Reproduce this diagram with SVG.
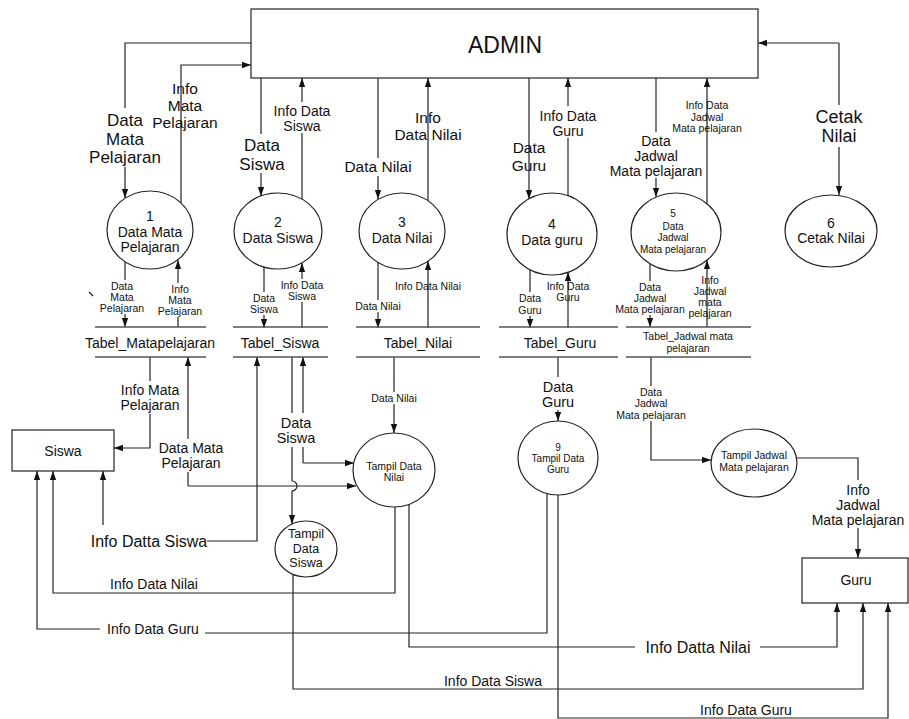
<svg xmlns="http://www.w3.org/2000/svg" width="909" height="719" viewBox="0 0 909 719">
<style>
text{font-family:"Liberation Sans",Arial,sans-serif;fill:#111;text-anchor:middle}
.ln{fill:none;stroke:#222;stroke-width:1.2}
.tb{stroke:#555;stroke-width:1.5}
.nd{fill:#fff;stroke:#222;stroke-width:1.2}
.bg{fill:#fff}
.s10{font-size:10px}.s105{font-size:10.5px}.s125{font-size:12.5px}.s14{font-size:14px}.s145{font-size:14.5px}.s155{font-size:15.5px}.s16{font-size:16px}.s17{font-size:17px}.s18{font-size:18px}.s23{font-size:23px}
</style>
<defs>
<marker id="a" viewBox="0 0 10 10" refX="10" refY="5" markerWidth="9" markerHeight="9" markerUnits="userSpaceOnUse" orient="auto"><path d="M0,1.5L10,5L0,8.5z" fill="#111"/></marker>
</defs>
<g id="connectors" class="ln" marker-end="url(#a)">
<path d="M251,43H125V198"/>
<path d="M181,203V65H251"/>
<path d="M261,78V196"/>
<path d="M302,199V78"/>
<path d="M378,78V199"/>
<path d="M428,201V78"/>
<path d="M529,78V199"/>
<path d="M568,196V78"/>
<path d="M656,78V197"/>
<path d="M707,204V78"/>
<path d="M839,43H758"/>
<path d="M839,43V195"/>
<path d="M125,262V327"/>
<path d="M178,327V260"/>
<path d="M264,267V328"/>
<path d="M302,328V263"/>
<path d="M378,262V328"/>
<path d="M428,328V261"/>
<path d="M530,270V328"/>
<path d="M568,328V272"/>
<path d="M650,264V327"/>
<path d="M707,327V260"/>
<path d="M150,357V448H114"/>
<path d="M188,486H356"/>
<path d="M188,486V357"/>
<path d="M292,357V481A5,5 0 0 1 292,491V524"/>
<path d="M303,463H354"/>
<path d="M303,463V357"/>
<path d="M207,541H257V357"/>
<path d="M103,525V471"/>
<path d="M394,357V433"/>
<path d="M395,507V593H53V471"/>
<path d="M409,504V647H635" marker-end="none"/>
<path d="M760,647H837V603"/>
<path d="M558,357V421"/>
<path d="M547,494V633H205" marker-end="none"/>
<path d="M100,629H37V471"/>
<path d="M558,495V718H888V603"/>
<path d="M651,357V460H711"/>
<path d="M796,458H858V558"/>
<path d="M293,574V689H863V603"/>
<path d="M89,292L93,296" marker-end="none"/>
</g>
<g id="admin"><rect class="nd" x="251" y="9" width="507" height="69"/><text class="s23" x="505" y="53">ADMIN</text></g>
<g id="p1"><ellipse class="nd" cx="150" cy="230" rx="43" ry="39"/><text class="s14" x="150" y="221">1</text><text class="s14" x="150" y="237">Data Mata</text><text class="s14" x="150" y="252">Pelajaran</text></g>
<g id="p2"><ellipse class="nd" cx="278" cy="231" rx="44" ry="38"/><text class="s14" x="278" y="227">2</text><text class="s14" x="278" y="243">Data Siswa</text></g>
<g id="p3"><ellipse class="nd" cx="402" cy="231" rx="43" ry="38"/><text class="s14" x="402" y="227">3</text><text class="s14" x="402" y="243">Data Nilai</text></g>
<g id="p4"><ellipse class="nd" cx="552" cy="234" rx="45" ry="41"/><text class="s14" x="552" y="229">4</text><text class="s14" x="552" y="245">Data guru</text></g>
<g id="p5"><ellipse class="nd" cx="676" cy="232" rx="45" ry="39"/><text class="s10" x="673" y="216.5">5</text><text class="s10" x="673" y="229.5">Data</text><text class="s10" x="673" y="240.5">Jadwal</text><text class="s10" x="673" y="252.5">Mata pelajaran</text></g>
<g id="p6"><ellipse class="nd" cx="831" cy="231" rx="46" ry="36"/><text class="s14" x="831" y="228">6</text><text class="s14" x="831" y="243">Cetak Nilai</text></g>
<g id="ds1"><path class="tb" d="M95,327H206M95,357H206"/><text class="s14" x="150" y="348">Tabel_Matapelajaran</text></g>
<g id="ds2"><path class="tb" d="M233,327H328M233,357H328"/><text class="s14" x="280" y="348">Tabel_Siswa</text></g>
<g id="ds3"><path class="tb" d="M356,327H480M356,357H480"/><text class="s14" x="418" y="348">Tabel_Nilai</text></g>
<g id="ds4"><path class="tb" d="M499,327H618M499,357H618"/><text class="s14" x="560" y="348">Tabel_Guru</text></g>
<g id="ds5"><path class="tb" d="M626,327H751M626,357H751"/><text class="s105" x="688" y="339.7">Tabel_Jadwal mata</text><text class="s105" x="688" y="351.7">pelajaran</text></g>
<g id="siswa"><rect class="nd" x="12" y="430" width="102" height="41"/><text class="s14" x="63" y="456">Siswa</text></g>
<g id="guru"><rect class="nd" x="802" y="558" width="106" height="45"/><text class="s14" x="856" y="585">Guru</text></g>
<g id="tampil-nilai"><ellipse class="nd" cx="394" cy="470" rx="41" ry="37"/><text class="s105" x="394" y="469.7">Tampil Data</text><text class="s105" x="394" y="480.7">Nilai</text></g>
<g id="tampil-guru"><ellipse class="nd" cx="558" cy="458" rx="40" ry="37"/><text class="s10" x="558" y="450.5">9</text><text class="s10" x="558" y="461.5">Tampil Data</text><text class="s10" x="558" y="472.5">Guru</text></g>
<g id="tampil-jadwal"><ellipse class="nd" cx="754" cy="463" rx="43" ry="34"/><text class="s105" x="754" y="458.7">Tampil Jadwal</text><text class="s105" x="754" y="470.7">Mata pelajaran</text></g>
<g id="tampil-siswa"><ellipse class="nd" cx="306" cy="549" rx="31" ry="28"/><text class="s125" x="306" y="538">Tampil</text><text class="s125" x="306" y="552.5">Data</text><text class="s125" x="306" y="567">Siswa</text></g>
<g id="labels">
<rect class="bg" x="87" y="108" width="76" height="59"/>
<text class="s17" x="125" y="126">Data</text><text class="s17" x="125" y="145">Mata</text><text class="s17" x="125" y="163">Pelajaran</text>
<text class="s155" x="185" y="94.4">Info</text><text class="s155" x="185" y="111.4">Mata</text><text class="s155" x="185" y="128.4">Pelajaran</text>
<rect class="bg" x="238" y="134" width="48" height="39"/>
<text class="s17" x="262" y="151">Data</text><text class="s17" x="262" y="170">Siswa</text>
<rect class="bg" x="272" y="102" width="60" height="31"/>
<text class="s14" x="302" y="116">Info Data</text><text class="s14" x="302" y="131">Siswa</text>
<rect class="bg" x="343" y="158" width="70" height="18"/>
<text class="s155" x="378" y="172">Data Nilai</text>
<text class="s155" x="428" y="123">Info</text><text class="s155" x="428" y="140">Data Nilai</text>
<text class="s155" x="529" y="153">Data</text><text class="s155" x="529" y="171">Guru</text>
<rect class="bg" x="536" y="106" width="64" height="32"/>
<text class="s14" x="568" y="121">Info Data</text><text class="s14" x="568" y="136">Guru</text>
<rect class="bg" x="608" y="132" width="96" height="46"/>
<text class="s14" x="656" y="146">Data</text><text class="s14" x="656" y="161">Jadwal</text><text class="s14" x="656" y="176">Mata pelajaran</text>
<text class="s105" x="707" y="109">Info Data</text><text class="s105" x="707" y="121">Jadwal</text><text class="s105" x="707" y="132">Mata pelajaran</text>
<rect class="bg" x="813" y="105" width="52" height="42"/>
<text class="s18" x="839" y="123">Cetak</text><text class="s18" x="839" y="142">Nilai</text>
<rect class="bg" x="98" y="280" width="48" height="34"/>
<text class="s105" x="122" y="289.7">Data</text><text class="s105" x="122" y="300.7">Mata</text><text class="s105" x="122" y="311.7">Pelajaran</text>
<rect class="bg" x="156" y="283" width="48" height="34"/>
<text class="s105" x="180" y="292.7">Info</text><text class="s105" x="180" y="303.7">Mata</text><text class="s105" x="180" y="314.7">Pelajaran</text>
<rect class="bg" x="248" y="292" width="32" height="23"/>
<text class="s105" x="264" y="301.7">Data</text><text class="s105" x="264" y="312.7">Siswa</text>
<rect class="bg" x="279" y="279" width="46" height="23"/>
<text class="s105" x="302" y="288.7">Info Data</text><text class="s105" x="302" y="299.7">Siswa</text>
<rect class="bg" x="354" y="300" width="48" height="12"/>
<text class="s105" x="378" y="309.7">Data Nilai</text>
<text class="s105" x="428" y="289.7">Info Data Nilai</text>
<rect class="bg" x="516" y="292" width="28" height="24"/>
<text class="s105" x="530" y="301.7">Data</text><text class="s105" x="530" y="313.7">Guru</text>
<text class="s105" x="568" y="289.7">Info Data</text><text class="s105" x="568" y="300.7">Guru</text>
<rect class="bg" x="614" y="281" width="72" height="34"/>
<text class="s105" x="650" y="290.7">Data</text><text class="s105" x="650" y="301.7">Jadwal</text><text class="s105" x="650" y="312.7">Mata pelajaran</text>
<text class="s105" x="710" y="283.7">Info</text><text class="s105" x="710" y="294.7">Jadwal</text><text class="s105" x="710" y="305.7">mata</text><text class="s105" x="710" y="316.7">pelajaran</text>
<rect class="bg" x="118" y="381" width="64" height="33"/>
<text class="s14" x="150" y="395">Info Mata</text><text class="s14" x="150" y="410">Pelajaran</text>
<rect class="bg" x="156" y="439" width="70" height="33"/>
<text class="s14" x="191" y="453">Data Mata</text><text class="s14" x="191" y="468">Pelajaran</text>
<rect class="bg" x="276" y="413" width="40" height="34"/>
<text class="s145" x="296" y="428">Data</text><text class="s145" x="296" y="443">Siswa</text>
<rect class="bg" x="370" y="392" width="48" height="12"/>
<text class="s105" x="394" y="401.7">Data Nilai</text>
<rect class="bg" x="540" y="377" width="36" height="33"/>
<text class="s145" x="558" y="392">Data</text><text class="s145" x="558" y="407">Guru</text>
<rect class="bg" x="615" y="386" width="72" height="35"/>
<text class="s105" x="651" y="395.7">Data</text><text class="s105" x="651" y="406.7">Jadwal</text><text class="s105" x="651" y="418.7">Mata pelajaran</text>
<rect class="bg" x="810" y="480" width="96" height="48"/>
<text class="s14" x="858" y="495">Info</text><text class="s14" x="858" y="510">Jadwal</text><text class="s14" x="858" y="525">Mata pelajaran</text>
<text class="s16" x="149" y="546.6">Info Datta Siswa</text>
<text class="s14" x="154" y="589">Info Data Nilai</text>
<text class="s14" x="153" y="634">Info Data Guru</text>
<text class="s16" x="698" y="652.6">Info Datta Nilai</text>
<text class="s14" x="493" y="686">Info Data Siswa</text>
<text class="s14" x="746" y="715">Info Data Guru</text>
</g>
</svg>
